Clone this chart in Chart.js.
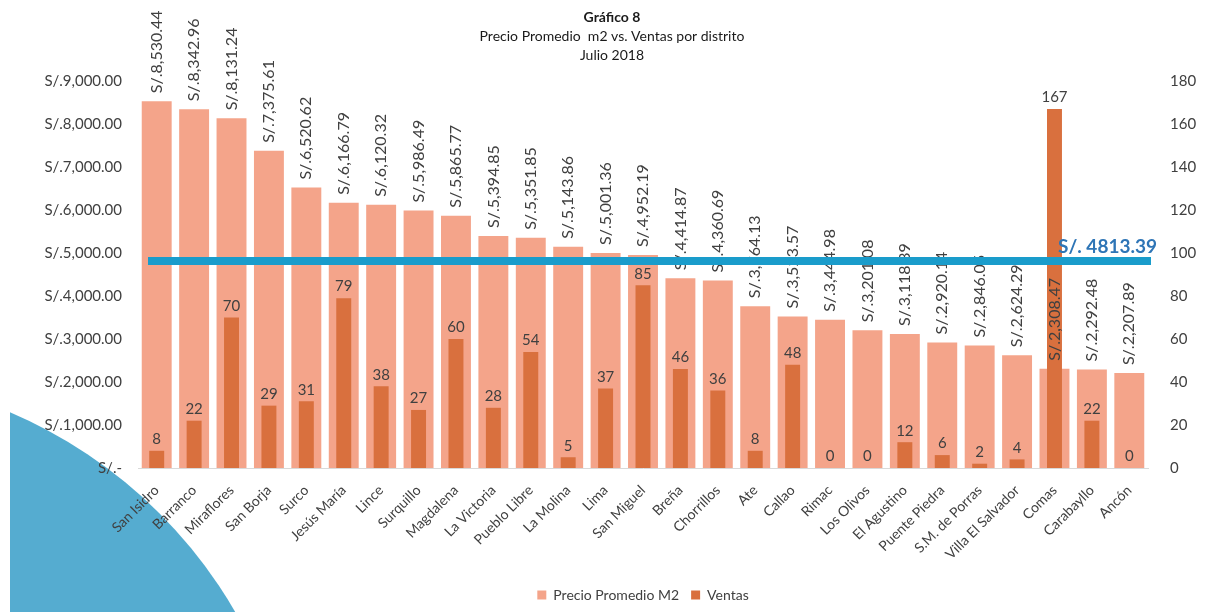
<!DOCTYPE html>
<html>
<head>
<meta charset="utf-8">
<script src="https://cdn.jsdelivr.net/npm/chart.js@4"></script>
<style>
  html, body { margin: 0; padding: 0; background: #fff; }
  #wrap { width: 1205px; height: 612px; position: relative; }
</style>
</head>
<body>
<div id="wrap"><canvas id="grafico" width="1205" height="612"></canvas></div>
<script>
// distritos y valores (julio 2018)
const distritos = ['San Isidro', 'Barranco', 'Miraflores', 'San Borja', 'Surco', 'Jesús María', 'Lince',
    'Surquillo', 'Magdalena', 'La Victoria', 'Pueblo Libre', 'La Molina', 'Lima', 'San Miguel', 'Breña',
    'Chorrillos', 'Ate', 'Callao', 'Rimac', 'Los Olivos', 'El Agustino', 'Puente Piedra', 'S.M. de Porras',
    'Villa El Salvador', 'Comas', 'Carabayllo', 'Ancón'];
const precioM2 = [8530.44, 8342.96, 8131.24, 7375.61, 6520.62, 6166.79, 6120.32, 5986.49, 5865.77, 5394.85,
    5351.85, 5143.86, 5001.36, 4952.19, 4414.87, 4360.69, 3764.13, 3523.57, 3444.98, 3201.08, 3118.39,
    2920.14, 2846.05, 2624.29, 2308.47, 2292.48, 2207.89];
const ventas = [8, 22, 70, 29, 31, 79, 38, 27, 60, 28, 54, 5, 37, 85, 46, 36, 8, 48, 0, 0, 12, 6, 2, 4, 167, 22, 0];
const promedio = 4813.39;
const ticksPrecio = [0, 1000, 2000, 3000, 4000, 5000, 6000, 7000, 8000, 9000];
const ticksVentas = [0, 20, 40, 60, 80, 100, 120, 140, 160, 180];

const FUENTE = 'Lato, "Open Sans", sans-serif';
const GRIS = '#404040';

function soles(v) {
    if (v === 0) return 'S/.-';
    return 'S/.' + v.toLocaleString('en-US', { minimumFractionDigits: 2, maximumFractionDigits: 2 });
}

// circulo azul decorativo detras del grafico
const fondo = {
    id: 'fondo',
    beforeDraw(chart) {
        const c = chart.ctx;
        c.save();
        c.beginPath();
        c.rect(10, 0, chart.width, chart.height);
        c.clip();
        c.fillStyle = '#55acd0';
        c.beginPath();
        c.arc(-177, 850, 476, 0, Math.PI * 2);
        c.fill();
        c.restore();
    }
};

// titulo, etiquetas de valores y linea de promedio
const extras = {
    id: 'extras',
    afterDatasetsDraw(chart) {
        const c = chart.ctx;
        const yP = chart.scales.y;
        const area = chart.chartArea;
        c.save();

        // etiquetas de precio (verticales)
        const mP = chart.getDatasetMeta(0);
        c.font = '16px ' + FUENTE;
        c.fillStyle = GRIS;
        c.textAlign = 'left';
        c.textBaseline = 'middle';
        mP.data.forEach((bar, i) => {
            c.save();
            c.translate(bar.x, bar.y - 8);
            c.rotate(-Math.PI / 2);
            c.fillText(soles(precioM2[i]), 0, 0);
            c.restore();
        });

        // etiquetas de ventas
        const mV = chart.getDatasetMeta(1);
        c.font = '15px ' + FUENTE;
        c.textAlign = 'center';
        c.textBaseline = 'bottom';
        mV.data.forEach((bar, i) => {
            c.fillText(String(ventas[i]), bar.x, bar.y - 4);
        });

        // linea de precio promedio
        const yL = yP.getPixelForValue(promedio);
        c.strokeStyle = '#1a9ccb';
        c.lineWidth = 8;
        c.beginPath();
        c.moveTo(area.left + 10, yL);
        c.lineTo(area.right + 3, yL);
        c.stroke();
        c.font = 'bold 19px ' + FUENTE;
        c.fillStyle = '#2e75b6';
        c.textAlign = 'right';
        c.textBaseline = 'alphabetic';
        c.fillText('S/. ' + promedio.toFixed(2), area.right + 9, yL - 8);

        // titulo
        const cx = 612;
        c.fillStyle = '#1a1a1a';
        c.textAlign = 'center';
        c.textBaseline = 'middle';
        c.font = 'bold 14px ' + FUENTE;
        c.fillText('Gráfico 8', cx, 17);
        c.font = '14px ' + FUENTE;
        c.fillText('Precio Promedio  m2 vs. Ventas por distrito', cx, 36);
        c.fillText('Julio 2018', cx, 55);
        c.restore();
    }
};

new Chart(document.getElementById('grafico'), {
    type: 'bar',
    data: {
        labels: distritos,
        datasets: [
            {
                label: 'Precio Promedio M2',
                data: precioM2,
                yAxisID: 'y',
                backgroundColor: '#f4a48a',
                barPercentage: 0.8,
                categoryPercentage: 1,
                grouped: false,
                order: 1
            },
            {
                label: 'Ventas',
                data: ventas,
                yAxisID: 'y1',
                backgroundColor: '#d9703e',
                barPercentage: 0.4,
                categoryPercentage: 1,
                grouped: false,
                order: 0
            }
        ]
    },
    options: {
        responsive: false,
        devicePixelRatio: 1,
        animation: false,
        layout: { padding: { top: 81, left: 0, right: 0, bottom: 0 } },
        plugins: {
            tooltip: { enabled: false },
            legend: {
                position: 'bottom',
                fullSize: false,
                labels: {
                    font: { family: FUENTE, size: 14 },
                    color: GRIS,
                    boxWidth: 9,
                    boxHeight: 9,
                    padding: 12,
                    sort: (a, b) => a.datasetIndex - b.datasetIndex
                }
            }
        },
        scales: {
            x: {
                grid: { display: false, drawTicks: false },
                border: { display: true, color: '#d9d9d9', width: 1 },
                ticks: {
                    font: { family: FUENTE, size: 14 },
                    color: GRIS,
                    minRotation: 45,
                    maxRotation: 45,
                    autoSkip: false,
                    padding: 14
                },
                afterFit(s) { s.height = 108; }
            },
            y: {
                position: 'left',
                min: 0,
                max: 9000,
                afterBuildTicks(s) { s.ticks = ticksPrecio.map(v => ({ value: v })); },
                grid: { display: false },
                border: { display: false },
                ticks: {
                    font: { family: FUENTE, size: 15 },
                    color: GRIS,
                    padding: 8,
                    callback: v => soles(v)
                },
                afterFit(s) { s.width = 138; }
            },
            y1: {
                position: 'right',
                min: 0,
                max: 180,
                afterBuildTicks(s) { s.ticks = ticksVentas.map(v => ({ value: v })); },
                grid: { display: false },
                border: { display: false },
                ticks: {
                    font: { family: FUENTE, size: 15 },
                    color: GRIS,
                    padding: 14
                },
                afterFit(s) { s.width = 57; }
            }
        }
    },
    plugins: [fondo, extras]
});
</script>
</body>
</html>
